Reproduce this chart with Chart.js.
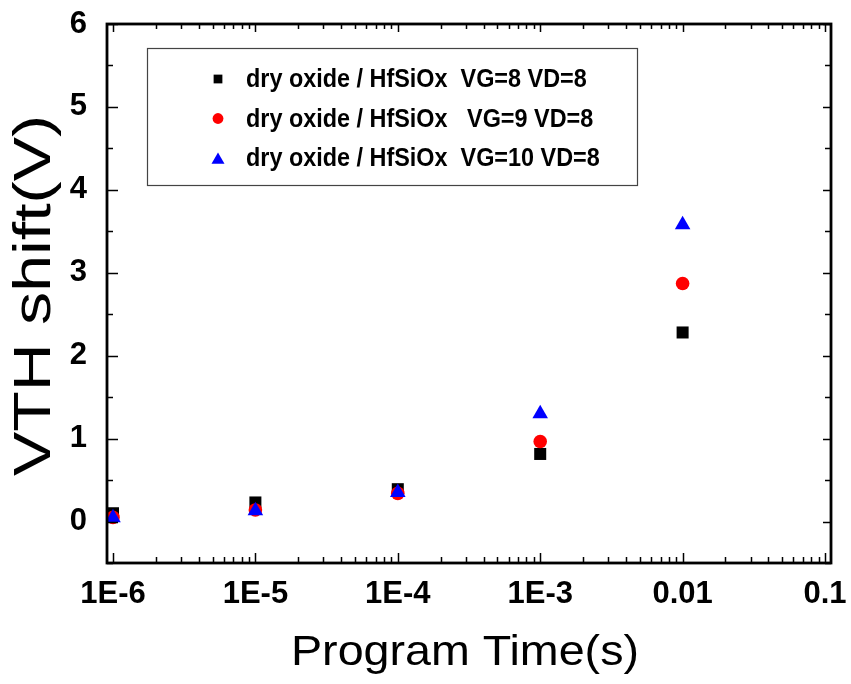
<!DOCTYPE html>
<html>
<head>
<meta charset="utf-8">
<script src="https://cdn.jsdelivr.net/npm/chart.js@4/dist/chart.umd.min.js"></script>
<style>
  html, body { margin: 0; padding: 0; background: #fff; }
  #wrap { width: 851px; height: 684px; }
</style>
</head>
<body>
<div id="wrap"><canvas id="myChart" width="851" height="684"></canvas></div>
<script>
// program times (s) and VTH shift for each bias
var times = [1e-6, 1e-5, 1e-4, 1e-3, 1e-2];
var vg8 = [0.10, 0.23, 0.39, 0.815, 2.28];
var vg9 = [0.05, 0.14, 0.34, 0.965, 2.87];
var vg10 = [0.045, 0.13, 0.35, 1.30, 3.58];

var seriesNames = [
  'dry oxide / HfSiOx  VG=8 VD=8',
  'dry oxide / HfSiOx   VG=9 VD=8',
  'dry oxide / HfSiOx  VG=10 VD=8'
];

// tick labels
var xTickValues = [1e-6, 1e-5, 1e-4, 1e-3, 1e-2, 1e-1];
var xTickLabels = ['1E-6', '1E-5', '1E-4', '1E-3', '0.01', '0.1'];
var yTickValues = [0, 1, 2, 3, 4, 5, 6];
var yTickLabels = ['0', '1', '2', '3', '4', '5', '6'];

var xTitle = 'Program Time(s)';
var yTitle = 'VTH shift(V)';

function pts(ys) {
  return times.map(function (t, i) { return { x: t, y: ys[i] }; });
}

var FONT = '"Liberation Sans", Arial, sans-serif';

// frame with inward ticks on all four sides, legend box and axis titles
var framePlugin = {
  id: 'frame',
  afterDatasetsDraw: function (chart) {
    var ctx = chart.ctx, a = chart.chartArea;
    var xs = chart.scales.x, ys = chart.scales.y;
    ctx.save();
    ctx.strokeStyle = '#000';
    ctx.lineWidth = 2.8;
    ctx.strokeRect(a.left, a.top, a.right - a.left, a.bottom - a.top);
    ctx.lineWidth = 1.5;
    ctx.beginPath();
    for (var k = -7; k <= 0; k++) {
      for (var m = 1; m <= 9; m++) {
        var v = m * Math.pow(10, k);
        if (v < xs.min || v > xs.max) continue;
        var px = Math.round(xs.getPixelForValue(v)) + 0.5;
        var len = m === 1 ? 10 : 6;
        ctx.moveTo(px, a.bottom); ctx.lineTo(px, a.bottom - len);
        ctx.moveTo(px, a.top); ctx.lineTo(px, a.top + (m === 1 ? 8 : 5));
      }
    }
    for (var y = -0.5; y <= 6; y += 0.5) {
      var py = Math.round(ys.getPixelForValue(y)) + 0.5;
      var major = Math.abs(y - Math.round(y)) < 1e-6;
      ctx.moveTo(a.left, py); ctx.lineTo(a.left + (major ? 11 : 6), py);
      ctx.moveTo(a.right, py); ctx.lineTo(a.right - (major ? 8 : 6), py);
    }
    ctx.stroke();
    ctx.restore();
  },
  afterDraw: function (chart) {
    var ctx = chart.ctx, a = chart.chartArea;
    // legend box
    var bx = a.left + 40, by = a.top + 24, bw = 490, bh = 137;
    ctx.save();
    ctx.strokeStyle = '#444';
    ctx.lineWidth = 1.2;
    ctx.strokeRect(bx + 0.5, by + 0.5, bw, bh);
    var radii = [6.2, 5.4, 7.5];
    chart.data.datasets.forEach(function (ds, i) {
      var cy = by + 31 + i * 39.5;
      ctx.fillStyle = ds.backgroundColor;
      ctx.strokeStyle = ds.backgroundColor;
      ctx.lineWidth = 1;
      Chart.helpers.drawPoint(ctx, { pointStyle: ds.pointStyle, radius: radii[i], rotation: 0 }, bx + 71, cy + (ds.pointStyle === 'triangle' ? 2 : 0));
      ctx.save();
      ctx.translate(bx + 99, cy);
      ctx.scale(0.9, 1);
      ctx.fillStyle = '#000';
      ctx.font = 'bold 26px ' + FONT;
      ctx.textBaseline = 'middle';
      ctx.fillText(ds.label, 0, 1);
      ctx.restore();
    });

    // axis titles (stretched like the original)
    ctx.fillStyle = '#000';
    ctx.textAlign = 'center';
    ctx.textBaseline = 'alphabetic';
    ctx.save();
    ctx.translate((a.left + a.right) / 2 - 4, 665);
    ctx.scale(1.11, 1);
    ctx.font = '42px ' + FONT;
    ctx.fillText(xTitle, 0, 0);
    ctx.restore();

    ctx.save();
    ctx.translate(50, (a.top + a.bottom) / 2 + 2);
    ctx.rotate(-Math.PI / 2);
    ctx.scale(1.3, 1);
    ctx.font = '51px ' + FONT;
    ctx.fillText(yTitle, 0, 0);
    ctx.restore();
    ctx.restore();
  }
};

var ctx = document.getElementById('myChart').getContext('2d');
var myChart = new Chart(ctx, {
  type: 'scatter',
  data: {
    datasets: [
      { label: seriesNames[0], data: pts(vg8), pointStyle: 'rect', pointRadius: 8.5,
        backgroundColor: '#000', borderColor: '#000', borderWidth: 0, order: 2 },
      { label: seriesNames[1], data: pts(vg9), pointStyle: 'circle', pointRadius: 6.8,
        backgroundColor: '#ff0000', borderColor: '#ff0000', borderWidth: 0, order: 1 },
      { label: seriesNames[2], data: pts(vg10), pointStyle: 'triangle', pointRadius: 9,
        backgroundColor: '#0000ff', borderColor: '#0000ff', borderWidth: 0, order: 0 }
    ]
  },
  options: {
    responsive: false,
    animation: false,
    layout: { padding: { top: 24, right: 20, left: 0, bottom: 0 } },
    plugins: { legend: { display: false }, tooltip: { enabled: false } },
    scales: {
      x: {
        type: 'logarithmic',
        min: Math.pow(10, -6.042),
        max: Math.pow(10, -0.958),
        grid: { display: false },
        border: { display: false },
        afterBuildTicks: function (scale) {
          scale.ticks = xTickValues.map(function (v) { return { value: v }; });
        },
        afterFit: function (scale) {
          scale.height = 121;
          scale.paddingLeft = 0;
          scale.paddingRight = 0;
        },
        ticks: {
          autoSkip: false,
          maxRotation: 0,
          padding: 5,
          color: '#000',
          font: { family: FONT, size: 31, weight: 'bold' },
          callback: function (v, i) { return xTickLabels[i]; }
        }
      },
      y: {
        min: -0.5,
        max: 6,
        grid: { display: false },
        border: { display: false },
        afterBuildTicks: function (scale) {
          scale.ticks = yTickValues.map(function (v) { return { value: v }; });
        },
        afterFit: function (scale) {
          scale.width = 107;
          scale.paddingTop = 0;
          scale.paddingBottom = 0;
        },
        ticks: {
          padding: 12,
          color: '#000',
          font: { family: FONT, size: 31, weight: 'bold' },
          callback: function (v, i) { return yTickLabels[i]; }
        }
      }
    }
  },
  plugins: [framePlugin]
});
</script>
</body>
</html>
